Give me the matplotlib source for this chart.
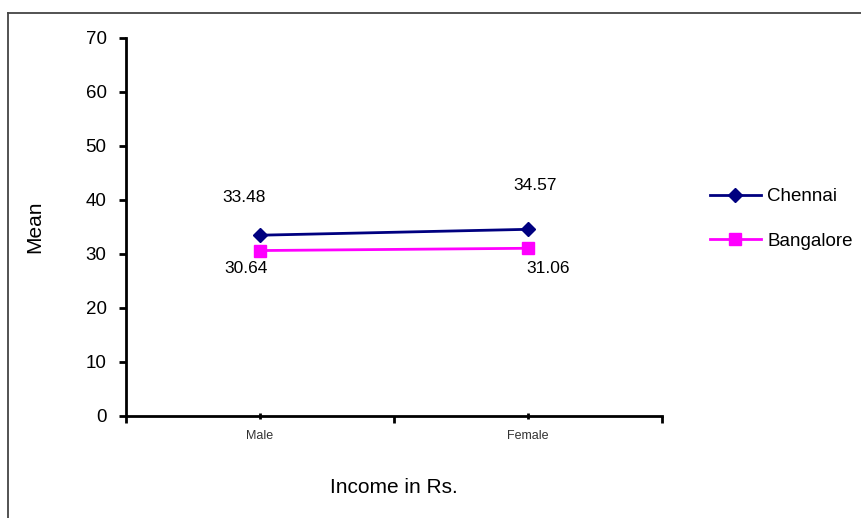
import matplotlib
matplotlib.use("Agg")
import matplotlib.pyplot as plt
from matplotlib.lines import Line2D

categories = ["Male", "Female"]
chennai = [33.48, 34.57]
bangalore = [30.64, 31.06]
y_ticks = [0, 10, 20, 30, 40, 50, 60, 70]

plt.rcParams['font.family'] = ['Liberation Sans', 'DejaVu Sans']
narrow = ['Liberation Sans', 'DejaVu Sans']

W, H = 861, 518
fig = plt.figure(figsize=(W / 100, H / 100), dpi=100)
ax = fig.add_axes([126 / W, 1 - 416 / H, (662 - 126) / W, (416 - 38) / H])

x = list(range(len(categories)))
ax.plot(x, chennai, color='#000080', marker='D', markersize=7, linewidth=2, label='Chennai')
ax.plot(x, bangalore, color='#FF00FF', marker='s', markersize=9, linewidth=2, label='Bangalore')

# data label offsets in pixels (dx, dy), Excel placed them by hand
px = 0.72
chennai_off = [(-16, 38), (7, 44)]
bangalore_off = [(-14, -18), (20, -20)]
for xi, v, (dx, dy) in zip(x, chennai, chennai_off):
    ax.annotate(f"{v:.2f}", (xi, v), xytext=(dx * px, dy * px), textcoords='offset points',
                ha='center', va='center', fontsize=12.5, family=narrow)
for xi, v, (dx, dy) in zip(x, bangalore, bangalore_off):
    ax.annotate(f"{v:.2f}", (xi, v), xytext=(dx * px, dy * px), textcoords='offset points',
                ha='center', va='center', fontsize=12.5, family=narrow)

ax.set_xlim(-0.5, len(categories) - 0.5)
ax.set_ylim(0, 70)
ax.set_yticks(y_ticks)
ax.set_xticks([i - 0.5 for i in range(len(categories) + 1)])
ax.set_xticklabels([])
ax.set_xticks(x, minor=True)
ax.set_xticklabels(categories, minor=True, fontsize=9, family=narrow, color='#333333')
ax.tick_params(axis='x', which='minor', length=4, width=2, direction='inout', pad=8)
ax.tick_params(axis='x', which='major', length=5, width=2, direction='out')
ax.tick_params(axis='y', length=5, width=2, direction='out', labelsize=13.5, pad=9)

for s in ['top', 'right']:
    ax.spines[s].set_visible(False)
for s in ['left', 'bottom']:
    ax.spines[s].set_linewidth(2)

ax.set_ylabel('Mean', fontsize=15, labelpad=30)
ax.set_xlabel('Income in Rs.', fontsize=15, labelpad=26)

ax.legend(loc='center left', bbox_to_anchor=(693 / W, 1 - 219 / H), bbox_transform=fig.transFigure,
          frameon=False, fontsize=13.5, handlelength=2.7, labelspacing=1.45, handletextpad=0.35)

# outer chart border (left and top edges only visible)
fig.add_artist(Line2D([8 / W, 8 / W], [0, 1 - 13 / H], transform=fig.transFigure, color='#444444', lw=1.3))
fig.add_artist(Line2D([8 / W, 1], [1 - 13 / H, 1 - 13 / H], transform=fig.transFigure, color='#444444', lw=1.3))

fig.savefig('out.png', dpi=100)
